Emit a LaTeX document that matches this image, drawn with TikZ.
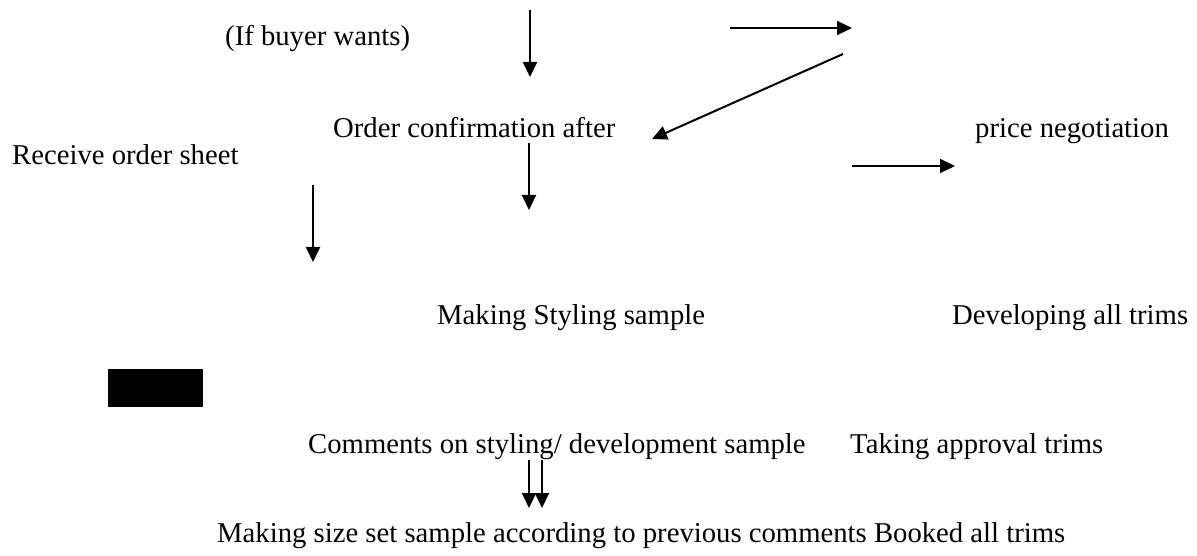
\documentclass[tikz,border=0pt]{standalone}
\usepackage{fontspec}
\setmainfont{Liberation Serif}
\usetikzlibrary{arrows.meta}
\begin{document}
\begin{tikzpicture}[x=1pt,y=-1pt,
  lbl/.style={inner sep=0pt,anchor=base west,font=\fontsize{28.7}{34}\selectfont},
  arr/.style={line width=2pt,-{Triangle[length=15pt,width=14pt]}},
  blk/.style={fill=black,draw=none}]
\useasboundingbox (0,0) rectangle (1197,556);
% texts
\node[lbl] (ifb) at (225,46) {(If buyer wants)};
\node[lbl] (ocf) at (333,138) {Order confirmation after};
\node[lbl] (png) at (975,138) {price negotiation};
\node[lbl] (ros) at (12,165) {Receive order sheet};
\node[lbl] (mss) at (437,324) {Making Styling sample};
\node[lbl] (dat) at (952,324) {Developing all trims};
\node[lbl] (cos) at (308,453) {Comments on styling/ development sample};
\node[lbl] (tat) at (850,453) {Taking approval trims};
\node[lbl] (mzs) at (217,542) {Making size set sample according to previous comments Booked all trims};
% black box
\path[blk] (108,369) rectangle (203,407);
% arrow end points
\coordinate (a1s) at (530,10);  \coordinate (a1e) at (530,77);
\coordinate (a2s) at (730,28);  \coordinate (a2e) at (852,28);
\coordinate (a3s) at (843,54);  \coordinate (a3e) at (652,139);
\coordinate (a4s) at (529,143); \coordinate (a4e) at (529,210);
\coordinate (a5s) at (313,185); \coordinate (a5e) at (313,262);
\coordinate (a6s) at (852,166); \coordinate (a6e) at (955,166);
\coordinate (a7s) at (529,460); \coordinate (a7e) at (529,508);
\coordinate (a8s) at (542,460); \coordinate (a8e) at (542,508);
\draw[arr] (a1s) -- (a1e);
\draw[arr] (a2s) -- (a2e);
\draw[arr] (a3s) -- (a3e);
\draw[arr] (a4s) -- (a4e);
\draw[arr] (a5s) -- (a5e);
\draw[arr] (a6s) -- (a6e);
\draw[arr] (a7s) -- (a7e);
\draw[arr] (a8s) -- (a8e);
\end{tikzpicture}
\end{document}
